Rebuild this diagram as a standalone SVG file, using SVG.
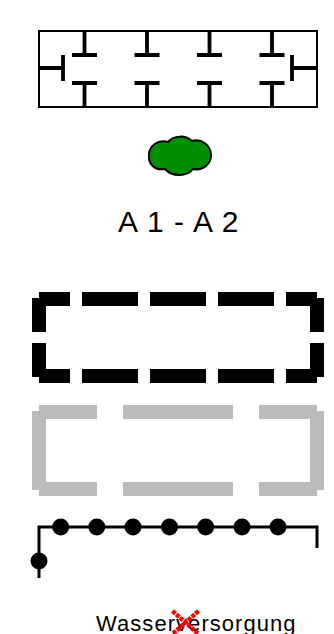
<svg xmlns="http://www.w3.org/2000/svg" width="334" height="634" viewBox="0 0 334 634">
<style>
.f{fill:none;stroke:#000;stroke-width:2}
.t{fill:none;stroke:#000;stroke-width:3.800}
.b{fill:none;stroke:#000;stroke-width:14}
.g{fill:none;stroke:#bbb;stroke-width:14}
.c{fill:none;stroke:#000;stroke-width:3}
.d{fill:#000}
text{font-family:"Liberation Sans",Arial,sans-serif;fill:#000}
</style>
<rect width="334" height="634" fill="#fff"/>
<g id="frame">
<rect class="f" x="39" y="31" width="278" height="76"/>
<path class="t" d="M84.500 31V55M72 55H97M147 31V55M134.500 55H159.500M209.500 31V55M197 55H222M272 31V55M259.500 55H284.500M84.500 107V83M72 83H97M147 107V83M134.500 83H159.500M209.500 107V83M197 83H222M272 107V83M259.500 83H284.500"/>
<path class="t" d="M39 68H63M63 55V81M317 68H292M292 55V81"/>
</g>
<g id="cloud">
<path d="M165 169C154 171 148 163 149 155C149 146 158 139 168 142C174 135 186 135 192 141C202 138 211 146 211 155C211 164 203 171 193 169C187 177 172 177 165 169Z" fill="#008f00" stroke="#000" stroke-width="2"/>
</g>
<g id="label-a">
<text x="118" y="232" font-size="30" letter-spacing="1.100">A 1 - A 2</text>
</g>
<g id="black-dashed">
<path class="b" d="M39 299H70M82 299H138M150 299H206M218 299H274M286 299H317M39 376H70M82 376H138M150 376H206M218 376H274M286 376H317M39 298V332M39 343V377M317 298V332M317 343V377"/>
</g>
<g id="gray-dashed">
<path class="g" d="M39 412H97M123 412H233M259 412H317M39 489H97M123 489H233M259 489H317M39 411V490M317 411V490"/>
</g>
<g id="chain">
<path class="c" d="M39 578V527H317V548"/>
<g class="d">
<circle cx="60.700" cy="527" r="8.500"/><circle cx="96.800" cy="527" r="8.500"/><circle cx="133" cy="527" r="8.500"/><circle cx="169.500" cy="527" r="8.500"/><circle cx="205.700" cy="527" r="8.500"/><circle cx="242" cy="527" r="8.500"/><circle cx="278" cy="527" r="8.500"/><circle cx="39" cy="561" r="8.500"/>
</g>
</g>
<g id="label-w">
<text x="96" y="631" font-size="22" letter-spacing="1.050">Wasserversorgung</text>
<path d="M172.500 611L198.500 634M198.500 611L172.500 634" fill="none" stroke="#f00" stroke-width="4.500" stroke-dasharray="4 1"/>
</g>
</svg>
